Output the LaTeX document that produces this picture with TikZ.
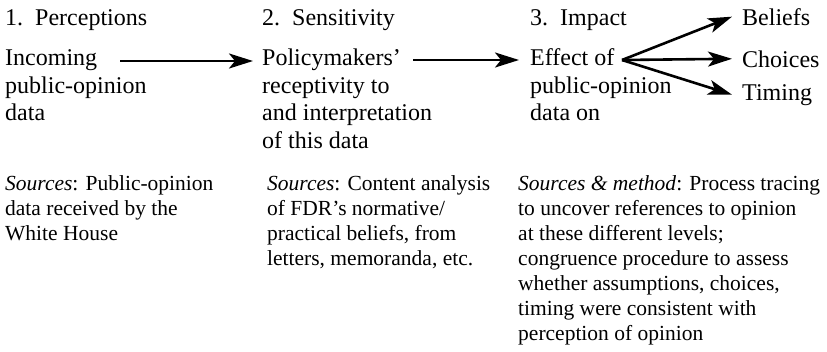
\documentclass[tikz,border=0pt]{standalone}
\usepackage{fontspec}
\setmainfont{Liberation Serif}
\usetikzlibrary{arrows.meta}
\begin{document}
\begin{tikzpicture}[x=1pt,y=-1pt,
  txt/.style={inner sep=0pt, anchor=base west, align=left, font=\fontsize{24}{27.7}\selectfont},
  src/.style={inner sep=0pt, anchor=base west, align=left, font=\fontsize{21.5}{25}\selectfont},
  arr/.style={line width=2.6pt, -{Stealth[length=24pt,width=15pt,inset=6pt]}},
  outc/.style={txt, inner xsep=10pt, inner ysep=0pt}]
\useasboundingbox (0,0) rectangle (827,351);
% headings
\node[txt] (h1) at (5,25) {1.\enspace Perceptions};
\node[txt] (h2) at (262,25) {2.\enspace Sensitivity};
\node[txt] (h3) at (530,25) {3.\enspace Impact};
% stage blocks (anchored at the baseline of their last line)
\node[txt] (b1) at (5,120.9) {Incoming\\public-opinion\\data};
\node[txt] (b2) at (262,148.6) {Policymakers'\\receptivity to\\and interpretation\\of this data};
\node[txt] (b3) at (530,120.9) {Effect of\\public-opinion\\data on};
% outcomes
\node[outc] (bel) at (732,25) {Beliefs};
\node[outc] (cho) at (732,67) {Choices};
\node[outc] (tim) at (732,100) {Timing};
% sources
\node[src] (s1) at (5,240) {\textit{Sources}: Public-opinion\\data received by the\\White House};
\node[src] (s2) at (267,265) {\textit{Sources}: Content analysis\\of FDR's normative/\\practical beliefs, from\\letters, memoranda, etc.};
\node[src] (s3) at (518,340) {\textit{Sources \& method}: Process tracing\\to uncover references to opinion\\at these different levels;\\congruence procedure to assess\\whether assumptions, choices,\\timing were consistent with\\perception of opinion};
% connectors
\coordinate (a1s) at (120,61);
\coordinate (a1e) at (253,61);
\coordinate (a2s) at (413,60);
\coordinate (a2e) at (519,60);
\coordinate (fan) at (622,60);
\draw[arr] (a1s) -- (a1e);
\draw[arr] (a2s) -- (a2e);
\draw[arr] (fan) -- (bel.west);
\draw[arr] (fan) -- (cho.west);
\draw[arr] (fan) -- (tim.west);
\end{tikzpicture}
\end{document}
